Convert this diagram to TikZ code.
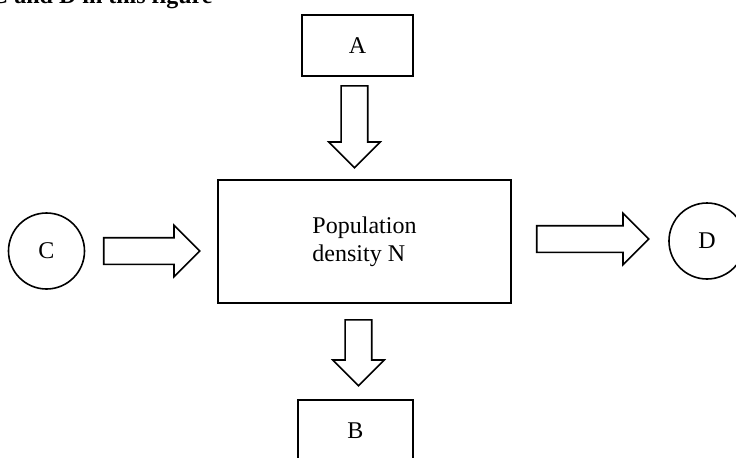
\documentclass[tikz,border=0pt]{standalone}
\usepackage{fontspec}
\setmainfont{Liberation Serif}
\usetikzlibrary{shapes.geometric,shapes.arrows,positioning,calc}
\tikzstyle{block} = [rectangle, draw=black, line width=0.8pt, inner sep=0pt, font=\fontsize{12}{14}\selectfont]
\tikzstyle{term} = [circle, draw=black, line width=0.8pt, minimum size=38pt, inner sep=0pt, font=\fontsize{12}{14}\selectfont]
\tikzstyle{flow} = [single arrow, draw=black, line width=0.8pt, inner sep=6.25pt, minimum width=25pt, single arrow head extend=6.25pt, single arrow tip angle=90, anchor=tail]

\begin{document}
\begin{tikzpicture}[x=0.5pt,y=-0.5pt]
\useasboundingbox (0,0) rectangle (736,457);
\node[anchor=base east, inner sep=0pt, font=\fontsize{12}{14}\selectfont\bfseries] (title) at (213,3) {, C and D in this figure};
\node[block, minimum width=55.5pt, minimum height=30.5pt] (a) at (357.5,45.5) {A};
\node[block, minimum width=146.5pt, minimum height=61.5pt, align=left] (n) at (364.5,241.5) {Population\\density N};
\node[block, minimum width=57.5pt, minimum height=30.5pt] (b) at (355.5,430.5) {B};
\node[term] (c) at (46.5,251) {C};
\node[term] (d) at (707,241) {D};
% block arrows between the boxes
\node[flow, minimum height=41pt, rotate=-90] (an) at (354.5,85) {};
\node[flow, minimum height=48pt] (cn) at (103,251) {};
\node[flow, minimum height=56pt] (nd) at (536,239) {};
\node[flow, minimum height=33pt, rotate=-90] (nb) at (358.5,319) {};
\end{tikzpicture}
\end{document}
